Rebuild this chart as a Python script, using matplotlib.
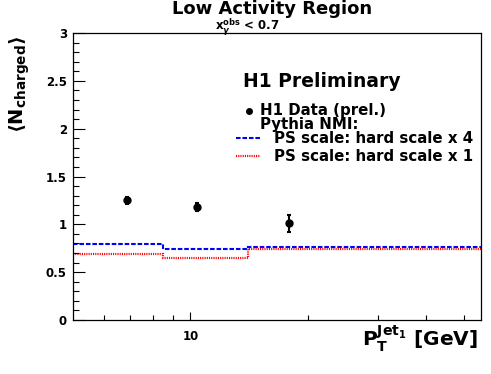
import matplotlib
matplotlib.use("Agg")
import matplotlib.pyplot as plt
from matplotlib.ticker import NullFormatter, FixedLocator
from matplotlib.lines import Line2D

# ---- data ----
data_x = [6.9, 10.4, 17.8]
data_y = [1.25, 1.18, 1.01]
data_err = [0.035, 0.04, 0.085]

bin_edges = [5.0, 8.5, 14.0, 55.0]
hard_x4 = [0.797, 0.742, 0.766]
hard_x1 = [0.693, 0.651, 0.745]

y_ticks = [0, 0.5, 1, 1.5, 2, 2.5, 3]
y_ticklabels = ["0", "0.5", "1", "1.5", "2", "2.5", "3"]
x_ticks = [10]
x_ticklabels = ["10"]
x_minor = [6, 7, 8, 9, 20, 30, 40, 50]

W, H = 491, 374
plt.rcParams['font.family'] = ['DejaVu Sans']
plt.rcParams['font.weight'] = 'bold'
plt.rcParams['mathtext.fontset'] = 'dejavusans'

fig = plt.figure(figsize=(W / 100, H / 100), dpi=100)
fig.patch.set_facecolor('white')

L, R, T, B = 72.5, 480.7, 33.0, 320.0
ax = fig.add_axes([L / W, 1 - B / H, (R - L) / W, (B - T) / H])

ax.stairs(hard_x4, bin_edges, color='#0000ff', lw=1.5,
          linestyle=(0, (2.2, 0.9)), baseline=None)
ax.stairs(hard_x1, bin_edges, color='#ff0000', lw=1.6,
          linestyle=(0, (0.5, 0.5)), baseline=None)
ax.errorbar(data_x, data_y, yerr=data_err, fmt='o', color='black',
            ms=5, capsize=1.5, elinewidth=1.5, capthick=1.5)

ax.set_xscale('log')
ax.set_xlim(5, 55)
ax.set_ylim(0, 3)
ax.xaxis.set_major_locator(FixedLocator(x_ticks))
ax.set_xticklabels(x_ticklabels)
ax.xaxis.set_minor_locator(FixedLocator(x_minor))
ax.xaxis.set_minor_formatter(NullFormatter())
ax.set_yticks(y_ticks)
ax.set_yticklabels(y_ticklabels)
ax.set_yticks([i / 10 for i in range(31)], minor=True)

ax.tick_params(axis='y', which='major', direction='in', length=8.6, width=0.8,
               labelsize=8.5, pad=4)
ax.tick_params(axis='y', which='minor', direction='in', length=4.3, width=0.8)
ax.tick_params(axis='x', which='major', direction='in', length=5.8, width=0.8,
               labelsize=8.5, pad=7)
ax.tick_params(axis='x', which='minor', direction='in', length=3.4, width=0.8)
for lab in ax.get_xticklabels() + ax.get_yticklabels():
    lab.set_fontweight('bold')
for s in ax.spines.values():
    s.set_linewidth(0.9)


def fx(x):
    return x / W


def fy(y):
    return 1 - y / H


fig.text(fx(272.5), fy(14.5), "Low Activity Region", ha='center', va='baseline',
         fontsize=13, fontweight='bold')
fig.text(fx(215), fy(30), r"$\mathbf{x}_{\gamma}^{\mathbf{obs}}$ < 0.7",
         ha='left', va='baseline', fontsize=8.5, fontweight='bold')
fig.text(fx(243), fy(87), "H1 Preliminary", ha='left', va='baseline',
         fontsize=13.5, fontweight='bold')
fig.text(fx(260), fy(115), "H1 Data (prel.)", ha='left', va='baseline',
         fontsize=10.8, fontweight='bold')
fig.text(fx(260), fy(129), "Pythia NMI:", ha='left', va='baseline',
         fontsize=10.8, fontweight='bold')
fig.text(fx(274), fy(143), "PS scale: hard scale x 4", ha='left', va='baseline',
         fontsize=10.8, fontweight='bold')
fig.text(fx(274), fy(161), "PS scale: hard scale x 1", ha='left', va='baseline',
         fontsize=10.8, fontweight='bold')

fig.add_artist(Line2D([fx(249)], [fy(111)], marker='o', ms=4, color='black',
                      transform=fig.transFigure))
fig.add_artist(Line2D([fx(236), fx(260)], [fy(138), fy(138)], color='#0000ff',
                      lw=1.5, linestyle=(0, (2.2, 0.9)), transform=fig.transFigure))
fig.add_artist(Line2D([fx(236), fx(260)], [fy(156), fy(156)], color='#ff0000',
                      lw=1.6, linestyle=(0, (0.5, 0.5)), transform=fig.transFigure))

fig.text(fx(478), fy(346), r"$\mathbf{P}_{\mathbf{T}}^{\mathbf{Jet}_{\mathbf{1}}}$ [GeV]",
         ha='right', va='baseline', fontsize=14.5, fontweight='bold')
fig.text(fx(20), fy(84), r"$\langle\mathbf{N}_{\mathbf{charged}}\rangle$",
         ha='center', va='center', rotation=90, fontsize=14, fontweight='bold')

fig.savefig("out.png", dpi=100)
